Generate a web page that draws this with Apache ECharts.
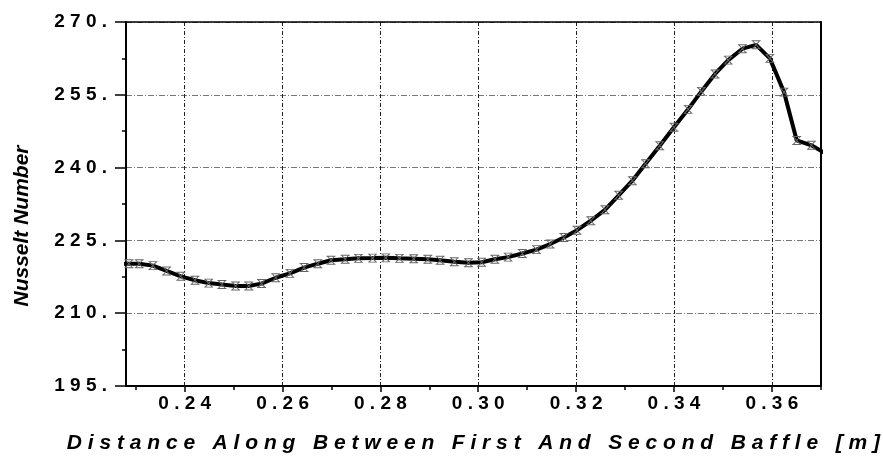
<!DOCTYPE html>
<html>
<head>
<meta charset="utf-8">
<script src="https://cdn.jsdelivr.net/npm/echarts@6/dist/echarts.min.js"></script>
<style>
  html, body { margin: 0; padding: 0; background: #fff; }
  #chart { width: 883px; height: 459px; }
</style>
</head>
<body>
<div id="chart"></div>
<script>
// distance along the baffle gap [m] and local Nusselt number
const distance = [0.2258, 0.2286, 0.2307, 0.2335, 0.2363, 0.2392, 0.2421, 0.2449, 0.2476, 0.2504,
  0.2531, 0.2557, 0.2586, 0.2615, 0.2644, 0.2672, 0.2699, 0.2728, 0.2755, 0.2784,
  0.2811, 0.2839, 0.2868, 0.2897, 0.2922, 0.2951, 0.2980, 0.3007, 0.3034, 0.3061,
  0.3090, 0.3119, 0.3147, 0.3175, 0.3202, 0.3230, 0.3259, 0.3287, 0.3315, 0.3342,
  0.3371, 0.3400, 0.3429, 0.3456, 0.3484, 0.3511, 0.3540, 0.3568, 0.3596, 0.3625,
  0.3651, 0.3681, 0.3710];
const nusselt = [220.1, 220.2, 220.2, 219.8, 218.7, 217.6, 216.8, 216.2, 215.9, 215.6,
  215.6, 216.1, 217.3, 218.2, 219.4, 220.2, 220.9, 221.1, 221.3, 221.35,
  221.4, 221.3, 221.2, 221.1, 220.9, 220.6, 220.4, 220.5, 221.1, 221.55,
  222.3, 223.1, 224.25, 225.6, 227.1, 229.05, 231.3, 234.3, 237.3, 240.8,
  244.5, 248.3, 252.0, 255.7, 259.3, 262.15, 264.5, 265.3, 262.5, 255.55,
  245.6, 244.6, 242.9];

const xMajorTicks = [0.24, 0.26, 0.28, 0.30, 0.32, 0.34, 0.36];
const xMinorTicks = [0.23, 0.25, 0.27, 0.29, 0.31, 0.33, 0.35, 0.37];
const xRange = [0.228, 0.37];
const yRange = [195, 270];
const yStep = 15;

const xTitle = 'Distance Along Between First And Second Baffle [m]';
const yTitle = 'Nusselt Number';

const FONT = '"Liberation Sans", Arial, sans-serif';
const spaced = s => s.split('').join(' ');
// wider gap between words, like the original's letter-spaced title
const spacedTitle = s => s.split(' ').map(spaced).join('   ');

const chart = echarts.init(document.getElementById('chart'), null, { renderer: 'canvas' });

const option = {
  animation: false,
  backgroundColor: '#fff',
  grid: { left: 126, right: 56, top: 22, bottom: 67 },
  xAxis: [
    {
      type: 'value', min: xRange[0], max: xRange[1],
      name: spacedTitle(xTitle), nameLocation: 'middle', nameGap: 47,
      nameTextStyle: { fontFamily: FONT, fontSize: 21, fontWeight: 'bold', fontStyle: 'italic', color: '#000' },
      axisLine: { lineStyle: { color: '#000', width: 2 } },
      axisTick: { customValues: xMajorTicks, length: 6, lineStyle: { color: '#000', width: 1.5 } },
      axisLabel: {
        customValues: xMajorTicks, margin: 8,
        fontFamily: FONT, fontSize: 19, fontWeight: 'bold', color: '#000',
        formatter: v => spaced(v.toFixed(2))
      },
      splitLine: { show: true, lineStyle: { color: '#222', width: 1, type: [4, 2, 1, 2] } }
    },
    {
      // minor ticks only
      type: 'value', min: xRange[0], max: xRange[1], position: 'bottom',
      axisLine: { show: false },
      axisTick: { customValues: xMinorTicks, length: 4, lineStyle: { color: '#000', width: 1.5 } },
      axisLabel: { show: false },
      splitLine: { show: false }
    },
    {
      // top frame
      type: 'value', min: xRange[0], max: xRange[1], position: 'top',
      axisLine: { lineStyle: { color: '#000', width: 1.5 } },
      axisTick: { show: false }, axisLabel: { show: false }, splitLine: { show: false }
    }
  ],
  yAxis: [
    {
      type: 'value', min: yRange[0], max: yRange[1], interval: yStep,
      axisLine: { show: true, lineStyle: { color: '#000', width: 2 } },
      axisTick: { show: true, length: 11, lineStyle: { color: '#000', width: 1.5 } },
      minorTick: { show: true, splitNumber: 2, length: 4, lineStyle: { color: '#000', width: 1.5 } },
      axisLabel: {
        margin: 19, fontFamily: FONT, fontSize: 19, fontWeight: 'bold', color: '#000',
        formatter: v => spaced(String(v)) + ' .'
      },
      splitLine: { show: true, lineStyle: { color: '#777', width: 1, type: [6, 2, 1, 2] } }
    },
    {
      // right frame
      type: 'value', min: yRange[0], max: yRange[1], position: 'right',
      axisLine: { show: true, lineStyle: { color: '#000', width: 2 } },
      axisTick: { show: false }, axisLabel: { show: false }, splitLine: { show: false }
    }
  ],
  graphic: [
    {
      type: 'text', x: 22, y: 226, rotation: Math.PI / 2,
      style: {
        text: yTitle, fill: '#000',
        font: 'italic bold 21px ' + FONT,
        textAlign: 'center', textVerticalAlign: 'middle'
      }
    }
  ],
  series: [
    {
      type: 'line',
      xAxisIndex: 0, yAxisIndex: 0,
      data: distance.map((d, i) => [d, nusselt[i]]),
      smooth: false,
      showAllSymbol: true,
      symbol: 'path://M0,0L10,0M0,10L10,10M1,0L9,10M9,0L1,10',
      symbolSize: [9, 8],
      itemStyle: { color: 'transparent', borderColor: '#666', borderWidth: 1 },
      lineStyle: { color: '#000', width: 4 },
      clip: true
    }
  ]
};

chart.setOption(option);
</script>
</body>
</html>
